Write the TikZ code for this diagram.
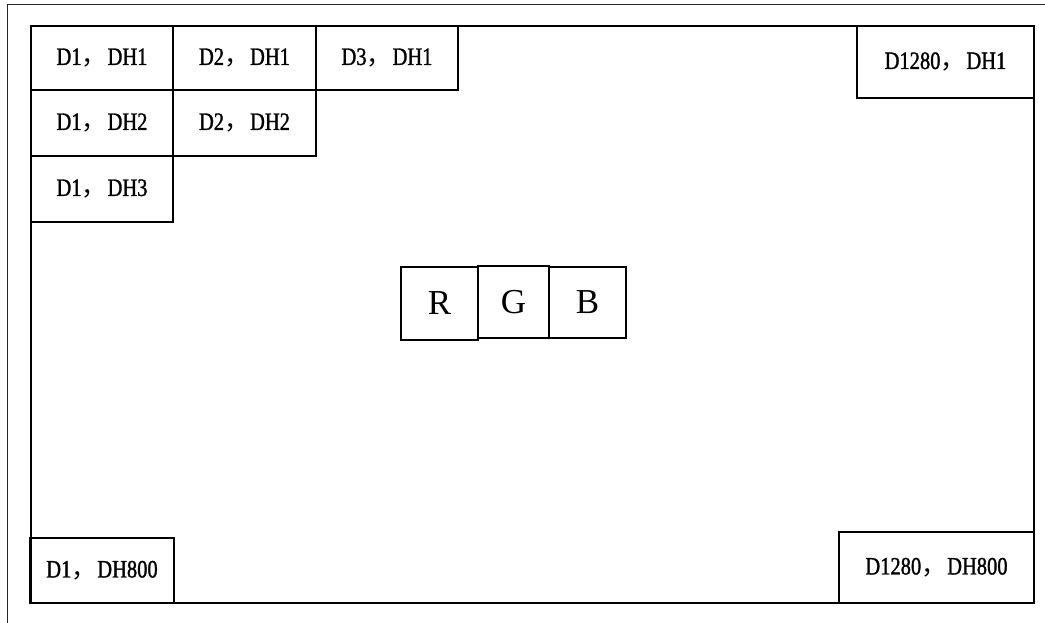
\documentclass[tikz,border=0pt]{standalone}
\usepackage{fontspec}
\setmainfont{Liberation Serif}
\newfontfamily\cellfont[FakeStretch=0.82,FakeBold=1.2]{Liberation Serif}
\newfontfamily\cjk{Noto Sans CJK SC}
\newcommand{\cm}{{\cjk ，}\kern1pt}
\tikzset{
  cell/.style={draw=black, line width=1.3pt, inner sep=0pt, outer sep=0pt,
    font=\cellfont\fontsize{25}{25}\selectfont},
  rgbcell/.style={draw=black, line width=1.3pt, inner sep=0pt, outer sep=0pt,
    font=\fontsize{35}{35}\selectfont},
  frame/.style={draw=black!85, line width=1pt},
  screen/.style={draw=black, line width=1.4pt}
}
\begin{document}
\begin{tikzpicture}[x=1pt,y=-1pt]
\useasboundingbox (0,0) rectangle (1045,623);
% outer frame (extends beyond the picture)
\coordinate (ftl) at (7,5);
\coordinate (ftr) at (1046,5);
\coordinate (fbl) at (7,624);
\draw[frame] (ftr) -- (ftl) -- (fbl);
% screen
\node[screen, inner sep=0pt, minimum width=1003pt, minimum height=577pt] (screen) at (532.5,314.5) {};
% cells
\node[cell, minimum width=142pt, minimum height=64pt] (c11) at (102,58) {D1\cm DH1};
\node[cell, minimum width=143pt, minimum height=64pt] (c21) at (244.5,58) {D2\cm DH1};
\node[cell, minimum width=142pt, minimum height=64pt] (c31) at (387,58) {D3\cm DH1};
\node[cell, minimum width=142pt, minimum height=66pt] (c12) at (102,123) {D1\cm DH2};
\node[cell, minimum width=143pt, minimum height=66pt] (c22) at (244.5,123) {D2\cm DH2};
\node[cell, minimum width=142pt, minimum height=66pt] (c13) at (102,189) {D1\cm DH3};
\node[cell, minimum width=177pt, minimum height=72pt] (c1280) at (945.5,62) {D1280\cm DH1};
\node[cell, minimum width=144pt, minimum height=65pt] (c1800) at (102,570.5) {D1\cm DH800};
\node[cell, minimum width=195pt, minimum height=71pt] (c1280800) at (936.5,567.5) {D1280\cm DH800};
% RGB
\node[rgbcell, minimum width=77pt, minimum height=73pt] (r) at (439.5,303.5) {R};
\node[rgbcell, minimum width=71pt, minimum height=72pt] (g) at (513.5,302) {G};
\node[rgbcell, minimum width=77pt, minimum height=71pt] (b) at (587.5,302.5) {B};
\end{tikzpicture}
\end{document}
